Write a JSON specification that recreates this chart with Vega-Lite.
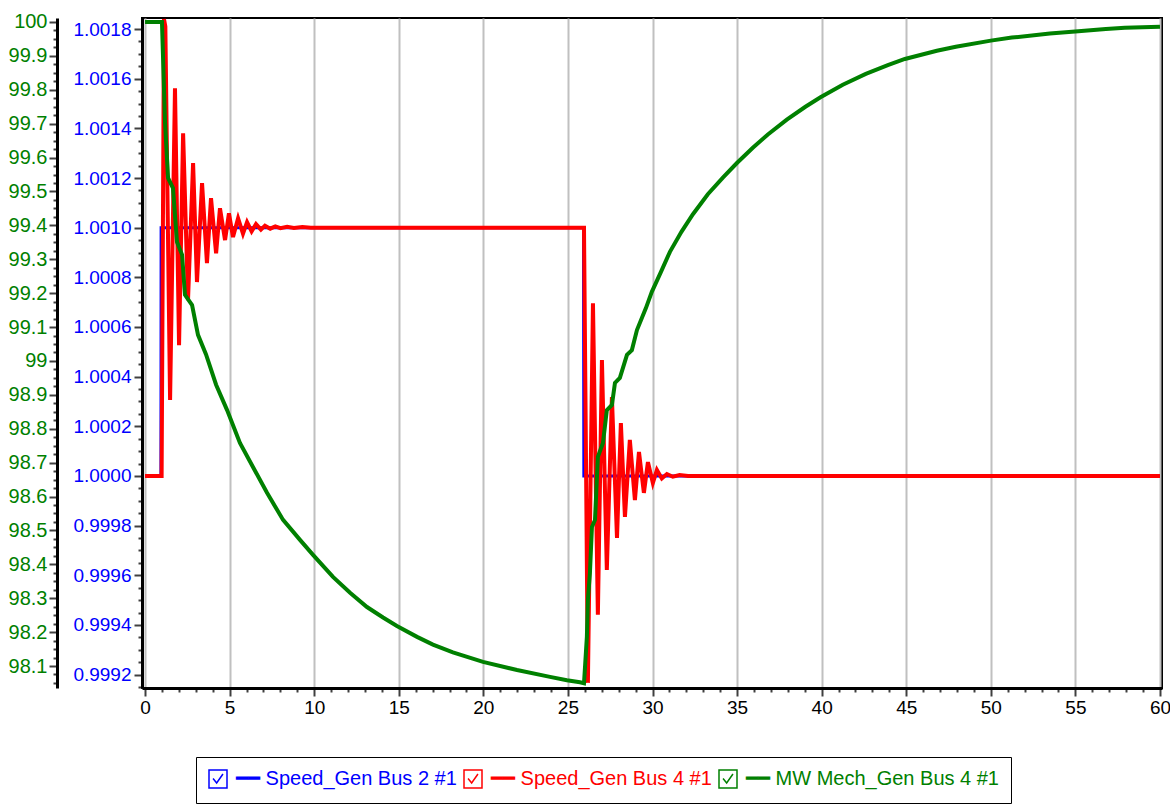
{
  "$schema": "https://vega.github.io/schema/vega-lite/v6.json",
  "width": 1020,
  "height": 670,
  "autosize": {"type": "none"},
  "padding": {"left": 142, "top": 18, "right": 8, "bottom": 118},
  "background": "white",
  "config": {"view": {"stroke": "black", "strokeWidth": 2}, "font": "Liberation Sans"},
  "datasets": {
    "blue": [
      {"t": 0, "v": 1.0, "s": "Speed_Gen Bus 2 #1"},
      {"t": 0.94, "v": 1.0, "s": "Speed_Gen Bus 2 #1"},
      {"t": 0.95, "v": 1.001, "s": "Speed_Gen Bus 2 #1"},
      {"t": 25.92, "v": 1.001, "s": "Speed_Gen Bus 2 #1"},
      {"t": 25.93, "v": 1.00053, "s": "Speed_Gen Bus 2 #1"},
      {"t": 25.94, "v": 1.0, "s": "Speed_Gen Bus 2 #1"},
      {"t": 60, "v": 1.0, "s": "Speed_Gen Bus 2 #1"}
    ],
    "red": [
      {"t": 0, "v": 1.0, "s": "Speed_Gen Bus 4 #1"},
      {"t": 0.98, "v": 1.0, "s": "Speed_Gen Bus 4 #1"},
      {"t": 1.12, "v": 1.00184, "s": "Speed_Gen Bus 4 #1"},
      {"t": 1.2, "v": 1.00181, "s": "Speed_Gen Bus 4 #1"},
      {"t": 1.48, "v": 1.000306, "s": "Speed_Gen Bus 4 #1"},
      {"t": 1.77, "v": 1.001561, "s": "Speed_Gen Bus 4 #1"},
      {"t": 2.01, "v": 1.000527, "s": "Speed_Gen Bus 4 #1"},
      {"t": 2.25, "v": 1.00138, "s": "Speed_Gen Bus 4 #1"},
      {"t": 2.54, "v": 1.000708, "s": "Speed_Gen Bus 4 #1"},
      {"t": 2.84, "v": 1.00126, "s": "Speed_Gen Bus 4 #1"},
      {"t": 3.07, "v": 1.000781, "s": "Speed_Gen Bus 4 #1"},
      {"t": 3.37, "v": 1.001179, "s": "Speed_Gen Bus 4 #1"},
      {"t": 3.66, "v": 1.000857, "s": "Speed_Gen Bus 4 #1"},
      {"t": 3.9, "v": 1.001119, "s": "Speed_Gen Bus 4 #1"},
      {"t": 4.2, "v": 1.000897, "s": "Speed_Gen Bus 4 #1"},
      {"t": 4.43, "v": 1.001078, "s": "Speed_Gen Bus 4 #1"},
      {"t": 4.73, "v": 1.00095, "s": "Speed_Gen Bus 4 #1"},
      {"t": 4.96, "v": 1.001058, "s": "Speed_Gen Bus 4 #1"},
      {"t": 5.2, "v": 1.000962, "s": "Speed_Gen Bus 4 #1"},
      {"t": 5.5, "v": 1.001038, "s": "Speed_Gen Bus 4 #1"},
      {"t": 5.79, "v": 1.000976, "s": "Speed_Gen Bus 4 #1"},
      {"t": 6.03, "v": 1.001022, "s": "Speed_Gen Bus 4 #1"},
      {"t": 6.3, "v": 1.000985, "s": "Speed_Gen Bus 4 #1"},
      {"t": 6.56, "v": 1.001014, "s": "Speed_Gen Bus 4 #1"},
      {"t": 6.85, "v": 1.000992, "s": "Speed_Gen Bus 4 #1"},
      {"t": 7.09, "v": 1.001008, "s": "Speed_Gen Bus 4 #1"},
      {"t": 7.4, "v": 1.000996, "s": "Speed_Gen Bus 4 #1"},
      {"t": 7.7, "v": 1.001005, "s": "Speed_Gen Bus 4 #1"},
      {"t": 8.0, "v": 1.000998, "s": "Speed_Gen Bus 4 #1"},
      {"t": 8.4, "v": 1.001004, "s": "Speed_Gen Bus 4 #1"},
      {"t": 8.8, "v": 1.000999, "s": "Speed_Gen Bus 4 #1"},
      {"t": 9.3, "v": 1.001003, "s": "Speed_Gen Bus 4 #1"},
      {"t": 9.8, "v": 1.001, "s": "Speed_Gen Bus 4 #1"},
      {"t": 25.95, "v": 1.001, "s": "Speed_Gen Bus 4 #1"},
      {"t": 26.18, "v": 0.999167, "s": "Speed_Gen Bus 4 #1"},
      {"t": 26.48, "v": 1.000696, "s": "Speed_Gen Bus 4 #1"},
      {"t": 26.77, "v": 0.999441, "s": "Speed_Gen Bus 4 #1"},
      {"t": 27.01, "v": 1.000467, "s": "Speed_Gen Bus 4 #1"},
      {"t": 27.3, "v": 0.999622, "s": "Speed_Gen Bus 4 #1"},
      {"t": 27.6, "v": 1.000318, "s": "Speed_Gen Bus 4 #1"},
      {"t": 27.9, "v": 0.999751, "s": "Speed_Gen Bus 4 #1"},
      {"t": 28.13, "v": 1.000213, "s": "Speed_Gen Bus 4 #1"},
      {"t": 28.37, "v": 0.999835, "s": "Speed_Gen Bus 4 #1"},
      {"t": 28.66, "v": 1.000145, "s": "Speed_Gen Bus 4 #1"},
      {"t": 28.96, "v": 0.999903, "s": "Speed_Gen Bus 4 #1"},
      {"t": 29.2, "v": 1.000097, "s": "Speed_Gen Bus 4 #1"},
      {"t": 29.49, "v": 0.999932, "s": "Speed_Gen Bus 4 #1"},
      {"t": 29.73, "v": 1.000056, "s": "Speed_Gen Bus 4 #1"},
      {"t": 30.02, "v": 0.999972, "s": "Speed_Gen Bus 4 #1"},
      {"t": 30.26, "v": 1.000024, "s": "Speed_Gen Bus 4 #1"},
      {"t": 30.55, "v": 0.99999, "s": "Speed_Gen Bus 4 #1"},
      {"t": 30.85, "v": 1.000008, "s": "Speed_Gen Bus 4 #1"},
      {"t": 31.2, "v": 0.999997, "s": "Speed_Gen Bus 4 #1"},
      {"t": 31.6, "v": 1.000004, "s": "Speed_Gen Bus 4 #1"},
      {"t": 32.1, "v": 1.0, "s": "Speed_Gen Bus 4 #1"},
      {"t": 60, "v": 1.0, "s": "Speed_Gen Bus 4 #1"}
    ],
    "green": [
      {"t": 0, "v": 100.0, "s": "MW Mech_Gen Bus 4 #1"},
      {"t": 1.0, "v": 100.0, "s": "MW Mech_Gen Bus 4 #1"},
      {"t": 1.18, "v": 99.705, "s": "MW Mech_Gen Bus 4 #1"},
      {"t": 1.36, "v": 99.54, "s": "MW Mech_Gen Bus 4 #1"},
      {"t": 1.65, "v": 99.51, "s": "MW Mech_Gen Bus 4 #1"},
      {"t": 1.89, "v": 99.351, "s": "MW Mech_Gen Bus 4 #1"},
      {"t": 2.19, "v": 99.313, "s": "MW Mech_Gen Bus 4 #1"},
      {"t": 2.36, "v": 99.195, "s": "MW Mech_Gen Bus 4 #1"},
      {"t": 2.78, "v": 99.165, "s": "MW Mech_Gen Bus 4 #1"},
      {"t": 3.13, "v": 99.077, "s": "MW Mech_Gen Bus 4 #1"},
      {"t": 3.6, "v": 99.02, "s": "MW Mech_Gen Bus 4 #1"},
      {"t": 4.2, "v": 98.93, "s": "MW Mech_Gen Bus 4 #1"},
      {"t": 4.85, "v": 98.855, "s": "MW Mech_Gen Bus 4 #1"},
      {"t": 5.61, "v": 98.758, "s": "MW Mech_Gen Bus 4 #1"},
      {"t": 6.38, "v": 98.687, "s": "MW Mech_Gen Bus 4 #1"},
      {"t": 7.21, "v": 98.611, "s": "MW Mech_Gen Bus 4 #1"},
      {"t": 8.16, "v": 98.531, "s": "MW Mech_Gen Bus 4 #1"},
      {"t": 9.16, "v": 98.472, "s": "MW Mech_Gen Bus 4 #1"},
      {"t": 9.93, "v": 98.428, "s": "MW Mech_Gen Bus 4 #1"},
      {"t": 11.11, "v": 98.363, "s": "MW Mech_Gen Bus 4 #1"},
      {"t": 12.12, "v": 98.316, "s": "MW Mech_Gen Bus 4 #1"},
      {"t": 13.12, "v": 98.274, "s": "MW Mech_Gen Bus 4 #1"},
      {"t": 14.07, "v": 98.243, "s": "MW Mech_Gen Bus 4 #1"},
      {"t": 14.89, "v": 98.218, "s": "MW Mech_Gen Bus 4 #1"},
      {"t": 16.08, "v": 98.186, "s": "MW Mech_Gen Bus 4 #1"},
      {"t": 17.02, "v": 98.163, "s": "MW Mech_Gen Bus 4 #1"},
      {"t": 18.2, "v": 98.14, "s": "MW Mech_Gen Bus 4 #1"},
      {"t": 19.98, "v": 98.112, "s": "MW Mech_Gen Bus 4 #1"},
      {"t": 21.99, "v": 98.088, "s": "MW Mech_Gen Bus 4 #1"},
      {"t": 23.94, "v": 98.068, "s": "MW Mech_Gen Bus 4 #1"},
      {"t": 24.94, "v": 98.058, "s": "MW Mech_Gen Bus 4 #1"},
      {"t": 25.71, "v": 98.052, "s": "MW Mech_Gen Bus 4 #1"},
      {"t": 25.95, "v": 98.049, "s": "MW Mech_Gen Bus 4 #1"},
      {"t": 26.12, "v": 98.186, "s": "MW Mech_Gen Bus 4 #1"},
      {"t": 26.18, "v": 98.295, "s": "MW Mech_Gen Bus 4 #1"},
      {"t": 26.3, "v": 98.375, "s": "MW Mech_Gen Bus 4 #1"},
      {"t": 26.42, "v": 98.51, "s": "MW Mech_Gen Bus 4 #1"},
      {"t": 26.6, "v": 98.531, "s": "MW Mech_Gen Bus 4 #1"},
      {"t": 26.77, "v": 98.717, "s": "MW Mech_Gen Bus 4 #1"},
      {"t": 27.07, "v": 98.758, "s": "MW Mech_Gen Bus 4 #1"},
      {"t": 27.3, "v": 98.855, "s": "MW Mech_Gen Bus 4 #1"},
      {"t": 27.6, "v": 98.87, "s": "MW Mech_Gen Bus 4 #1"},
      {"t": 27.78, "v": 98.935, "s": "MW Mech_Gen Bus 4 #1"},
      {"t": 28.07, "v": 98.95, "s": "MW Mech_Gen Bus 4 #1"},
      {"t": 28.49, "v": 99.018, "s": "MW Mech_Gen Bus 4 #1"},
      {"t": 28.78, "v": 99.032, "s": "MW Mech_Gen Bus 4 #1"},
      {"t": 29.08, "v": 99.091, "s": "MW Mech_Gen Bus 4 #1"},
      {"t": 29.61, "v": 99.156, "s": "MW Mech_Gen Bus 4 #1"},
      {"t": 29.96, "v": 99.204, "s": "MW Mech_Gen Bus 4 #1"},
      {"t": 30.5, "v": 99.263, "s": "MW Mech_Gen Bus 4 #1"},
      {"t": 31.03, "v": 99.322, "s": "MW Mech_Gen Bus 4 #1"},
      {"t": 31.71, "v": 99.381, "s": "MW Mech_Gen Bus 4 #1"},
      {"t": 32.39, "v": 99.433, "s": "MW Mech_Gen Bus 4 #1"},
      {"t": 33.27, "v": 99.492, "s": "MW Mech_Gen Bus 4 #1"},
      {"t": 34.16, "v": 99.541, "s": "MW Mech_Gen Bus 4 #1"},
      {"t": 34.99, "v": 99.584, "s": "MW Mech_Gen Bus 4 #1"},
      {"t": 35.93, "v": 99.629, "s": "MW Mech_Gen Bus 4 #1"},
      {"t": 36.82, "v": 99.668, "s": "MW Mech_Gen Bus 4 #1"},
      {"t": 37.94, "v": 99.712, "s": "MW Mech_Gen Bus 4 #1"},
      {"t": 39.04, "v": 99.75, "s": "MW Mech_Gen Bus 4 #1"},
      {"t": 39.93, "v": 99.778, "s": "MW Mech_Gen Bus 4 #1"},
      {"t": 41.25, "v": 99.815, "s": "MW Mech_Gen Bus 4 #1"},
      {"t": 42.61, "v": 99.847, "s": "MW Mech_Gen Bus 4 #1"},
      {"t": 43.91, "v": 99.873, "s": "MW Mech_Gen Bus 4 #1"},
      {"t": 44.92, "v": 99.891, "s": "MW Mech_Gen Bus 4 #1"},
      {"t": 46.81, "v": 99.915, "s": "MW Mech_Gen Bus 4 #1"},
      {"t": 47.93, "v": 99.927, "s": "MW Mech_Gen Bus 4 #1"},
      {"t": 50.0, "v": 99.945, "s": "MW Mech_Gen Bus 4 #1"},
      {"t": 51.24, "v": 99.954, "s": "MW Mech_Gen Bus 4 #1"},
      {"t": 53.49, "v": 99.966, "s": "MW Mech_Gen Bus 4 #1"},
      {"t": 54.99, "v": 99.972, "s": "MW Mech_Gen Bus 4 #1"},
      {"t": 56.8, "v": 99.979, "s": "MW Mech_Gen Bus 4 #1"},
      {"t": 57.92, "v": 99.983, "s": "MW Mech_Gen Bus 4 #1"},
      {"t": 60.0, "v": 99.986, "s": "MW Mech_Gen Bus 4 #1"}
    ]
  },
  "layer": [
    {
      "data": {"name": "blue"},
      "mark": {"type": "line", "strokeWidth": 3, "interpolate": "linear"},
      "encoding": {
        "x": {"field": "t", "type": "quantitative",
          "scale": {"domain": [-0.18, 60.12], "nice": false, "zero": false},
          "axis": {"title": null, "values": [0,1,2,3,4,5,6,7,8,9,10,11,12,13,14,15,16,17,18,19,20,21,22,23,24,25,26,27,28,29,30,31,32,33,34,35,36,37,38,39,40,41,42,43,44,45,46,47,48,49,50,51,52,53,54,55,56,57,58,59,60],
            "labelExpr": "datum.value % 5 == 0 ? datum.label : ''",
            "labelFontSize": 19, "labelColor": "black", "labelFont": "Liberation Sans", "labelFlush": false, "labelOverlap": false, "labelPadding": 2,
            "tickSize": {"condition": {"test": "datum.value % 5 == 0", "value": 8}, "value": 4},
            "tickColor": "#404040", "tickWidth": 2,
            "domainColor": "black", "domainWidth": 3,
            "grid": true, "gridColor": "#c0c0c0", "gridWidth": 2,
            "gridOpacity": {"condition": {"test": "datum.value % 5 == 0", "value": 1}, "value": 0}}},
        "y": {"field": "v", "type": "quantitative",
          "scale": {"domain": [0.9991463, 1.0018443], "nice": false, "zero": false},
          "axis": {"title": null, "orient": "left", "offset": 0, "grid": false,
            "values": [0.99915,0.9992,0.99925,0.9993,0.99935,0.9994,0.99945,0.9995,0.99955,0.9996,0.99965,0.9997,0.99975,0.9998,0.99985,0.9999,0.99995,1.0,1.00005,1.0001,1.00015,1.0002,1.00025,1.0003,1.00035,1.0004,1.00045,1.0005,1.00055,1.0006,1.00065,1.0007,1.00075,1.0008,1.00085,1.0009,1.00095,1.001,1.00105,1.0011,1.00115,1.0012,1.00125,1.0013,1.00135,1.0014,1.00145,1.0015,1.00155,1.0016,1.00165,1.0017,1.00175,1.0018],
            "labelExpr": "abs(round(datum.value*100000)) % 20 == 0 ? format(datum.value, '.4f') : ''",
            "labelFontSize": 19, "labelColor": "#0000ff", "labelFont": "Liberation Sans", "labelOverlap": false, "labelFlush": false, "labelPadding": 3,
            "tickSize": {"condition": {"test": "abs(round(datum.value*100000)) % 20 == 0", "value": 8}, "value": 4},
            "tickColor": "#404040", "tickWidth": 2,
            "domainColor": "black", "domainWidth": 3}},
        "color": {"field": "s", "type": "nominal",
          "scale": {"domain": ["Speed_Gen Bus 2 #1", "Speed_Gen Bus 4 #1", "MW Mech_Gen Bus 4 #1"], "range": ["#0000ff", "#ff0000", "#008000"]},
          "legend": {"orient": "none", "legendX": 54, "legendY": 739, "direction": "horizontal", "title": null,
            "strokeColor": "black", "fillColor": "white", "padding": 12,
            "labelFontSize": 20, "labelFont": "Liberation Sans", "labelLimit": 400,
            "symbolType": "M-1,-1H1V1H-1Z M-0.55,-0.05L-0.15,0.45L0.55,-0.55",
            "symbolSize": 324, "labelOffset": 8, "columnPadding": 4,
            "symbolStrokeColor": "#404040", "symbolFillColor": "white", "symbolStrokeWidth": 1.5,
            "labelExpr": "'━━ ' + datum.label",
            "encode": {
              "labels": {"update": {"fill": {"scale": "color", "field": "value"}}},
              "symbols": {"update": {"fill": {"value": "white"}, "strokeWidth": {"value": 1.5}, "opacity": {"value": 1}}}
            }}}
      }
    },
    {
      "data": {"name": "red"},
      "mark": {"type": "line", "strokeWidth": 4, "interpolate": "linear"},
      "encoding": {
        "x": {"field": "t", "type": "quantitative",
          "scale": {"domain": [-0.18, 60.12], "nice": false, "zero": false},
          "axis": {"title": null, "values": [0,1,2,3,4,5,6,7,8,9,10,11,12,13,14,15,16,17,18,19,20,21,22,23,24,25,26,27,28,29,30,31,32,33,34,35,36,37,38,39,40,41,42,43,44,45,46,47,48,49,50,51,52,53,54,55,56,57,58,59,60],
            "labelExpr": "datum.value % 5 == 0 ? datum.label : ''",
            "labelFontSize": 19, "labelColor": "black", "labelFont": "Liberation Sans", "labelFlush": false, "labelOverlap": false, "labelPadding": 2,
            "tickSize": {"condition": {"test": "datum.value % 5 == 0", "value": 8}, "value": 4},
            "tickColor": "#404040", "tickWidth": 2,
            "domainColor": "black", "domainWidth": 3,
            "grid": true, "gridColor": "#c0c0c0", "gridWidth": 2,
            "gridOpacity": {"condition": {"test": "datum.value % 5 == 0", "value": 1}, "value": 0}}},
        "y": {"field": "v", "type": "quantitative",
          "scale": {"domain": [0.9991463, 1.0018443], "nice": false, "zero": false},
          "axis": null},
        "color": {"field": "s", "type": "nominal"}
      }
    },
    {
      "data": {"name": "green"},
      "mark": {"type": "line", "strokeWidth": 4, "interpolate": "linear"},
      "encoding": {
        "x": {"field": "t", "type": "quantitative",
          "scale": {"domain": [-0.18, 60.12], "nice": false, "zero": false},
          "axis": {"title": null, "values": [0,1,2,3,4,5,6,7,8,9,10,11,12,13,14,15,16,17,18,19,20,21,22,23,24,25,26,27,28,29,30,31,32,33,34,35,36,37,38,39,40,41,42,43,44,45,46,47,48,49,50,51,52,53,54,55,56,57,58,59,60],
            "labelExpr": "datum.value % 5 == 0 ? datum.label : ''",
            "labelFontSize": 19, "labelColor": "black", "labelFont": "Liberation Sans", "labelFlush": false, "labelOverlap": false, "labelPadding": 2,
            "tickSize": {"condition": {"test": "datum.value % 5 == 0", "value": 8}, "value": 4},
            "tickColor": "#404040", "tickWidth": 2,
            "domainColor": "black", "domainWidth": 3,
            "grid": true, "gridColor": "#c0c0c0", "gridWidth": 2,
            "gridOpacity": {"condition": {"test": "datum.value % 5 == 0", "value": 1}, "value": 0}}},
        "y": {"field": "v", "type": "quantitative",
          "scale": {"domain": [98.0351, 100.0118], "nice": false, "zero": false},
          "axis": {"title": null, "orient": "left", "offset": 85, "grid": false,
            "values": [98.05,98.075,98.1,98.125,98.15,98.175,98.2,98.225,98.25,98.275,98.3,98.325,98.35,98.375,98.4,98.425,98.45,98.475,98.5,98.525,98.55,98.575,98.6,98.625,98.65,98.675,98.7,98.725,98.75,98.775,98.8,98.825,98.85,98.875,98.9,98.925,98.95,98.975,99,99.025,99.05,99.075,99.1,99.125,99.15,99.175,99.2,99.225,99.25,99.275,99.3,99.325,99.35,99.375,99.4,99.425,99.45,99.475,99.5,99.525,99.55,99.575,99.6,99.625,99.65,99.675,99.7,99.725,99.75,99.775,99.8,99.825,99.85,99.875,99.9,99.925,99.95,99.975,100],
            "labelExpr": "abs(round(datum.value*1000)) % 100 == 0 ? format(datum.value, '.4~g') : ''",
            "labelFontSize": 20, "labelColor": "#008000", "labelFont": "Liberation Sans", "labelOverlap": false, "labelFlush": false, "labelPadding": 2,
            "tickSize": {"condition": {"test": "abs(round(datum.value*1000)) % 100 == 0", "value": 8}, "value": 4},
            "tickColor": "#404040", "tickWidth": 2,
            "domainColor": "black", "domainWidth": 3}},
        "color": {"field": "s", "type": "nominal"}
      }
    }
  ],
  "resolve": {"scale": {"y": "independent"}}
}
